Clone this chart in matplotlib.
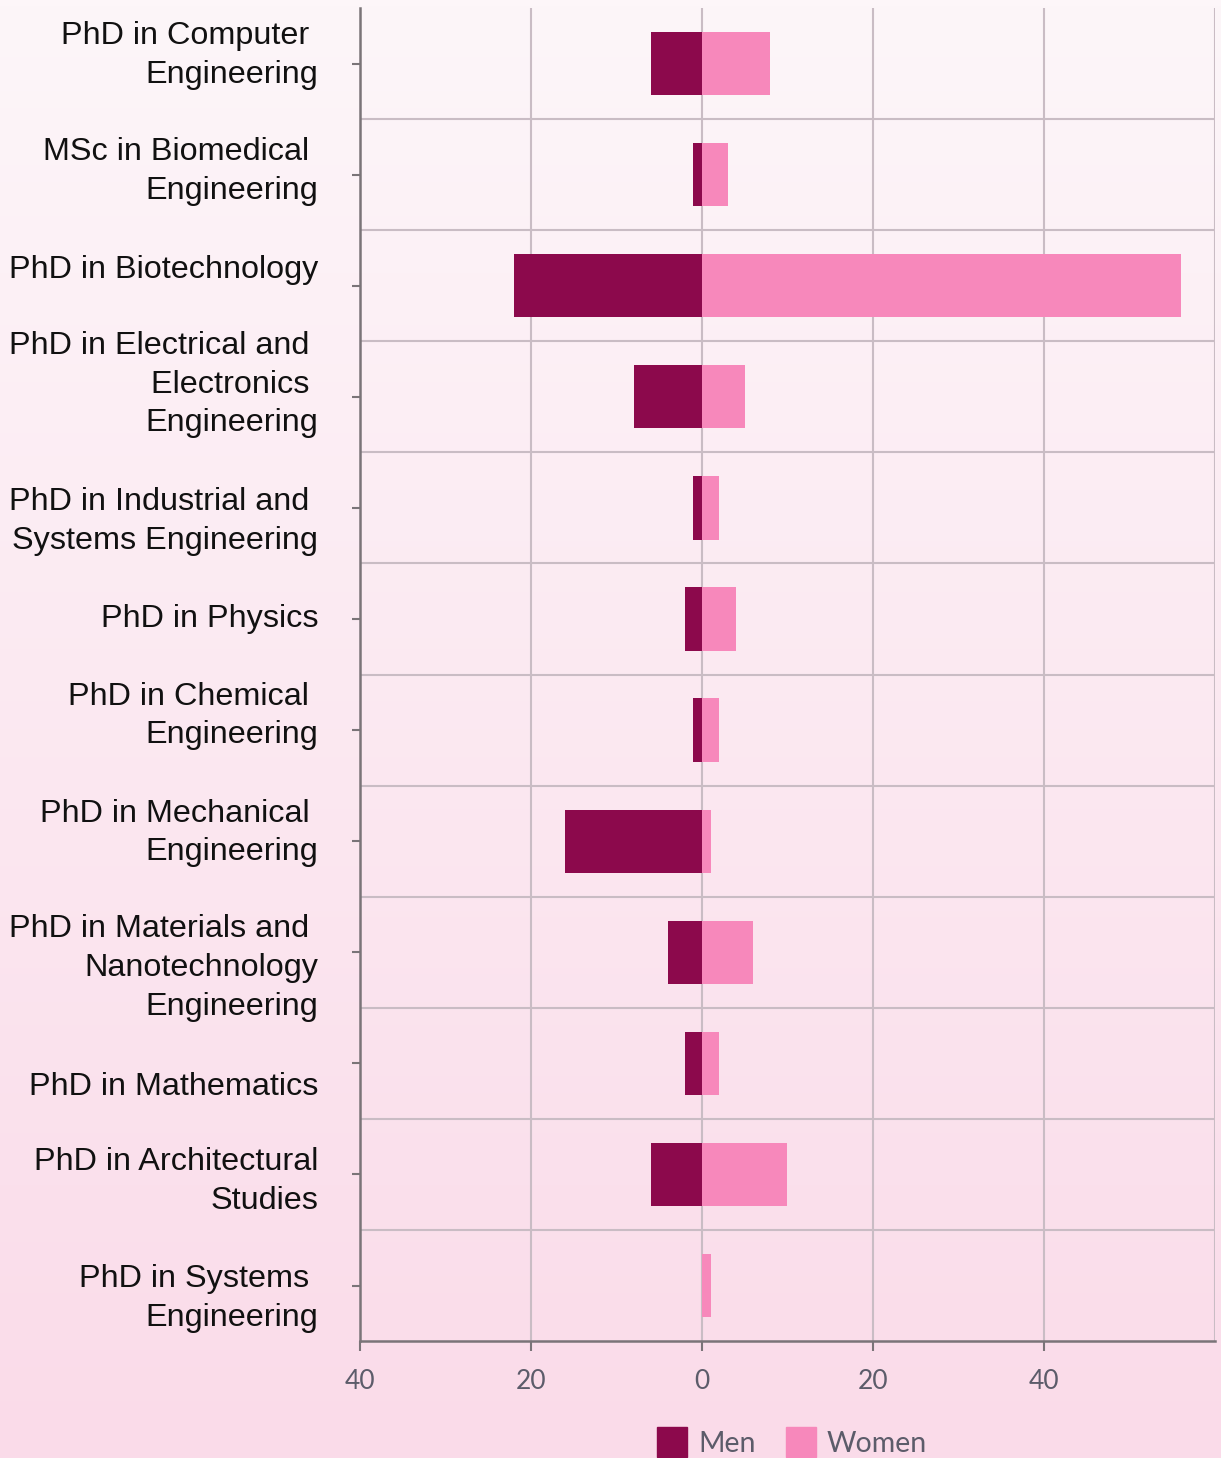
import numpy as np
import matplotlib.pyplot as plt
from matplotlib.lines import Line2D
from matplotlib.transforms import ScaledTranslation
from matplotlib.colors import LinearSegmentedColormap

# Data
programs = [
    "PhD in Computer \nEngineering",
    "MSc in Biomedical \nEngineering",
    "PhD in Biotechnology",
    "PhD in Electrical and \nElectronics \nEngineering",
    "PhD in Industrial and \nSystems Engineering",
    "PhD in Physics",
    "PhD in Chemical \nEngineering",
    "PhD in Mechanical \nEngineering",
    "PhD in Materials and \nNanotechnology\nEngineering",
    "PhD in Mathematics",
    "PhD in Architectural\nStudies",
    "PhD in Systems \nEngineering",
]
men = [6, 1, 22, 8, 1, 2, 1, 16, 4, 2, 6, 0]
women = [8, 3, 56, 5, 2, 4, 2, 1, 6, 2, 10, 1]
x_ticks = [-40, -20, 0, 20, 40]
x_tick_labels = ["40", "20", "0", "20", "40"]

# small vertical nudges (px) for the category labels, as in the original
label_shift = [-16, -11, -19, -20, 6, -3, -22, -16, 8, 20, -1, 5]

men_color = "#8c094c"
women_color = "#f788bb"
grid_color = "#c9bcc4"
axis_color = "#7a7478"
tick_text = "#5c5c6a"

fig = plt.figure(figsize=(12.21, 14.58), dpi=100)

# background gradient
bg = fig.add_axes([0, 0, 1, 1], zorder=-10)
cmap = LinearSegmentedColormap.from_list("bg", ["#fdf6f9", "#fadbe9"])
bg.imshow(np.linspace(0, 1, 256).reshape(-1, 1), aspect="auto", cmap=cmap,
          extent=[0, 1, 0, 1])
bg.axis("off")

ax = fig.add_axes([0.2948, 0.0802, 0.7003, 0.9143])
ax.set_facecolor("none")

y = np.arange(len(programs))
ax.barh(y, [-m for m in men], height=0.57, color=men_color, zorder=3)
ax.barh(y, women, height=0.57, color=women_color, zorder=3)

ax.set_xlim(-40, 60)
ax.set_ylim(len(programs) - 0.5, -0.5)

# grid
for gx in [-20, 0, 20, 40, 60]:
    ax.axvline(gx, color=grid_color, lw=1.5, zorder=1)
for gy in np.arange(0.5, len(programs) - 0.5, 1):
    ax.axhline(gy, color=grid_color, lw=1.5, zorder=1)

for s in ["top", "right"]:
    ax.spines[s].set_visible(False)
for s in ["left", "bottom"]:
    ax.spines[s].set_color(axis_color)
    ax.spines[s].set_linewidth(1.8)

ax.set_yticks(y)
ax.set_yticklabels(programs, fontsize=23.3, family="Liberation Sans",
                   color="#111111", ha="right", linespacing=1.38)
ax.tick_params(axis="y", length=6, width=1.5, color=axis_color, pad=24)
for lbl, dy in zip(ax.get_yticklabels(), label_shift):
    lbl.set_transform(lbl.get_transform() +
                      ScaledTranslation(0, -dy / 100, fig.dpi_scale_trans))

ax.set_xticks(x_ticks)
ax.set_xticklabels(x_tick_labels, fontsize=19, family="Lato", color=tick_text)
ax.tick_params(axis="x", length=7, width=1.5, color=axis_color, pad=13)

handles = [
    Line2D([], [], ls="none", marker="s", markersize=21, color=men_color),
    Line2D([], [], ls="none", marker="s", markersize=21, color=women_color),
]
fig.legend(handles, ["Men", "Women"], loc="center", bbox_to_anchor=(0.648, 0.0095),
           ncol=2, frameon=False, prop={"family": "Lato", "size": 20.5},
           labelcolor=tick_text, handletextpad=0.3, columnspacing=1.0,
           handlelength=1.2)

fig.savefig("out.png", dpi=100)
